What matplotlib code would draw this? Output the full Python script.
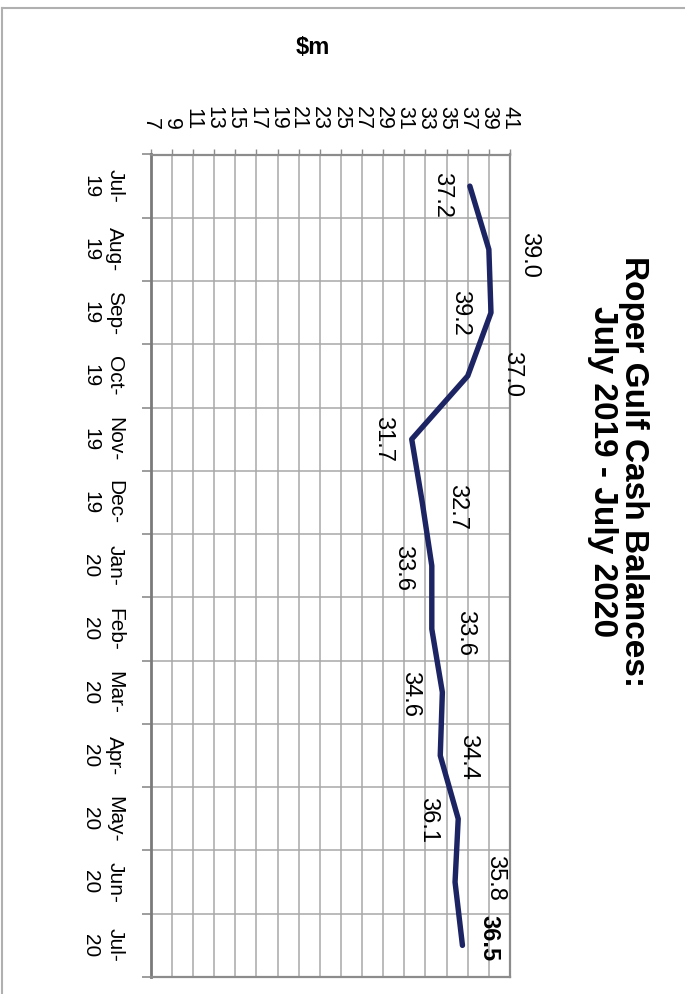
import matplotlib
matplotlib.use("Agg")
import matplotlib.pyplot as plt
from matplotlib.lines import Line2D
from matplotlib.ticker import NullFormatter

# Monthly cash balances ($m), July 2019 - July 2020
months = ["Jul-\n19", "Aug-\n19", "Sep-\n19", "Oct-\n19", "Nov-\n19", "Dec-\n19",
          "Jan-\n20", "Feb-\n20", "Mar-\n20", "Apr-\n20", "May-\n20", "Jun-\n20", "Jul-\n20"]
balances = [37.2, 39.0, 39.2, 37.0, 31.7, 32.7, 33.6, 33.6, 34.6, 34.4, 36.1, 35.8, 36.5]
value_ticks = list(range(7, 42, 2))

# Placement of each value label relative to its point (pixels: across, along)
label_shift_px = [(-28, -9), (40, -6), (-31, 0), (44, 2), (-29, 0), (35, -5), (-29, -2),
                  (33, -4), (-32, -2), (28, -1), (-30, -1), (40, 4), (26, 7)]

plt.rcParams['font.family'] = ['Liberation Sans', 'DejaVu Sans']

W, H = 685, 994
fig = plt.figure(figsize=(W / 100, H / 100), dpi=100)
ax = fig.add_axes([150.7 / W, 1 - 977 / H, (510 - 150.7) / W, (977 - 154.5) / H])

line_color = '#1c2463'
grid_color = '#a8a8a8'
frame_color = '#8c8c8c'

pos = list(range(len(months)))
ax.plot(balances, pos, color=line_color, lw=3.9, solid_capstyle='round',
        solid_joinstyle='round', zorder=3)

ax.set_xlim(value_ticks[0], value_ticks[-1])
ax.set_ylim(len(months) - 0.5, -0.5)

# value axis along the top, labels read top to bottom
ax.xaxis.tick_top()
ax.set_xticks(value_ticks)
ax.set_xticklabels([str(v) for v in value_ticks], rotation=-90, fontsize=15.5)
ax.tick_params(axis='x', length=4.5, pad=13, color=frame_color, width=1)

# month axis on the left: ticks between months, labels at month centres
ax.set_yticks([i - 0.5 for i in range(len(months) + 1)])
ax.yaxis.set_major_formatter(NullFormatter())
ax.set_yticks(pos, minor=True)
ax.set_yticklabels(months, minor=True, rotation=-90, fontsize=15,
                   multialignment='center', linespacing=1.35)
for lab in ax.get_yticklabels(minor=True):
    lab.set_va('center')
ax.tick_params(axis='y', which='minor', length=0, pad=19)
ax.tick_params(axis='y', which='major', length=6.5, color=frame_color, width=1.2)

ax.grid(True, which='major', color=grid_color, lw=1.1)
ax.set_axisbelow(True)
for name, sp in ax.spines.items():
    sp.set_color(frame_color)
    sp.set_linewidth(1.6)
ax.spines['left'].set_color('#7a7a7a')
ax.spines['left'].set_linewidth(2)

for i, (v, (dx, dy)) in enumerate(zip(balances, label_shift_px)):
    ax.annotate(f"{v:.1f}", xy=(v, i), xytext=(dx, dy), textcoords='offset pixels',
                rotation=-90, ha='center', va='center', fontsize=17,
                fontweight='bold' if i == len(balances) - 1 else 'normal',
                annotation_clip=False, zorder=4)

fig.text(313 / W, 1 - 47 / H, "$m", fontsize=17, fontweight='bold',
         ha='center', va='center')
fig.text(618 / W, 1 - 472 / H, "Roper Gulf Cash Balances:\nJuly 2019 - July 2020",
         rotation=-90, fontsize=24, fontweight='bold', ha='center', va='center',
         multialignment='center', linespacing=1.0)

# thin outer border along the top and left edges
fig.add_artist(Line2D([2 / W, 1], [1 - 7.5 / H] * 2, color='#b0b0b0', lw=1.5))
fig.add_artist(Line2D([2 / W] * 2, [0, 1 - 7.5 / H], color='#b0b0b0', lw=1.5))

fig.savefig("out.png", dpi=100)
